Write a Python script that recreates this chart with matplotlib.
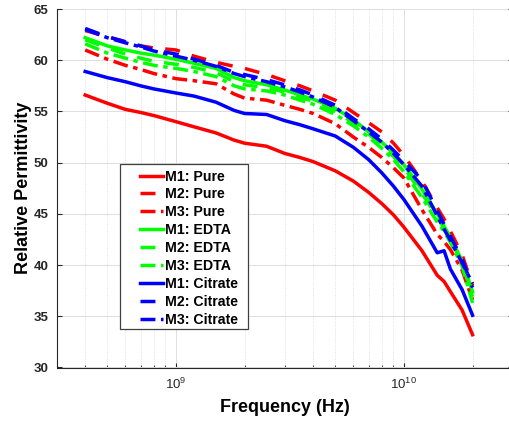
import matplotlib
matplotlib.use("Agg")
import matplotlib.pyplot as plt
from matplotlib.ticker import LogLocator, NullFormatter
from matplotlib.legend_handler import HandlerLine2D
from matplotlib.lines import Line2D
from matplotlib.patches import Rectangle

plt.rcParams['font.family'] = ['Liberation Sans', 'DejaVu Sans']
plt.rcParams['mathtext.fontset'] = 'custom'
plt.rcParams['mathtext.rm'] = 'Liberation Sans'
plt.rcParams['mathtext.it'] = 'Liberation Sans:italic'
plt.rcParams['mathtext.bf'] = 'Liberation Sans:bold'

freq = [4e8, 5e8, 6e8, 7e8, 8e8, 1e9, 1.2e9, 1.5e9, 1.8e9, 2e9, 2.5e9, 3e9, 3.5e9,
        4e9, 5e9, 6e9, 7e9, 8e9, 9e9, 1e10, 1.2e10, 1.4e10, 1.5e10, 1.6e10, 1.8e10, 2e10]

pure_m1 = [56.6, 55.8, 55.2, 54.9, 54.6, 54.0, 53.5, 52.9, 52.2, 51.9, 51.6, 50.9, 50.5,
           50.1, 49.2, 48.2, 47.1, 46.0, 44.9, 43.7, 41.4, 39.0, 38.4, 37.4, 35.6, 33.2]
pure_m2 = [62.9, 62.3, 61.8, 61.4, 61.2, 61.0, 60.4, 59.8, 59.4, 59.2, 58.6, 58.0, 57.5,
           57.0, 56.1, 54.9, 53.9, 53.0, 51.9, 50.7, 48.2, 45.6, 44.5, 43.3, 41.0, 38.0]
pure_m3 = [61.0, 60.1, 59.5, 59.1, 58.7, 58.2, 58.0, 57.7, 56.7, 56.3, 56.1, 55.6, 55.2,
           54.8, 53.8, 52.5, 51.5, 50.5, 49.5, 48.5, 45.4, 43.0, 42.3, 41.5, 39.5, 36.6]
edta_m1 = [62.2, 61.4, 61.0, 60.7, 60.5, 60.1, 59.7, 59.2, 58.3, 58.0, 57.6, 57.1, 56.6,
           56.2, 55.3, 54.2, 53.0, 52.0, 50.9, 49.8, 47.4, 45.0, 43.8, 42.7, 40.4, 37.4]
edta_m2 = [62.0, 61.2, 60.6, 60.2, 59.9, 59.6, 59.3, 58.8, 57.9, 57.6, 57.3, 56.9, 56.4,
           56.0, 55.0, 53.9, 52.8, 51.7, 50.6, 49.5, 47.0, 44.7, 43.6, 42.5, 40.2, 36.9]
edta_m3 = [61.6, 60.7, 60.2, 59.8, 59.5, 59.2, 58.9, 58.4, 57.5, 57.2, 57.0, 56.6, 56.1,
           55.7, 54.7, 53.6, 52.5, 51.4, 50.3, 49.1, 46.6, 44.2, 43.3, 42.2, 39.9, 36.3]
cit_m1 = [58.9, 58.3, 57.9, 57.5, 57.2, 56.8, 56.5, 55.9, 55.1, 54.8, 54.7, 54.1, 53.7,
          53.3, 52.6, 51.5, 50.3, 49.0, 47.7, 46.4, 43.8, 41.2, 41.4, 39.6, 37.6, 35.1]
cit_m2 = [63.1, 62.3, 61.8, 61.4, 61.0, 60.6, 60.1, 59.5, 58.8, 58.6, 58.1, 57.6, 57.1,
          56.6, 55.6, 54.3, 53.3, 52.3, 51.2, 50.2, 48.3, 45.3, 44.0, 42.8, 40.6, 37.8]
cit_m3 = [63.0, 62.2, 61.7, 61.3, 60.9, 60.4, 60.0, 59.4, 58.7, 58.4, 57.9, 57.4, 56.9,
          56.4, 55.4, 54.1, 53.0, 52.0, 50.9, 49.8, 47.7, 44.8, 43.5, 42.4, 40.2, 38.2]

labels = ['M1: Pure', 'M2: Pure', 'M3: Pure', 'M1: EDTA', 'M2: EDTA', 'M3: EDTA',
          'M1: Citrate', 'M2: Citrate', 'M3: Citrate']
series = [pure_m1, pure_m2, pure_m3, edta_m1, edta_m2, edta_m3, cit_m1, cit_m2, cit_m3]
colors = ['#ff0000'] * 3 + ['#00ff00'] * 3 + ['#0000ff'] * 3
styles = ['-', (0, (4.3, 3.6)), (0, (4.3, 1.6, 1.3, 1.6))] * 3

yticks = [30, 35, 40, 45, 50, 55, 60, 65]


class ShiftedLineHandler(HandlerLine2D):
    """Draw the legend line only in the right part of the handle box."""
    frac = 0.62

    def create_artists(self, legend, orig_handle, xdescent, ydescent, width, height,
                       fontsize, trans):
        arts = super().create_artists(legend, orig_handle, xdescent, ydescent, width,
                                      height, fontsize, trans)
        for a in arts:
            if isinstance(a, Line2D):
                xd = list(a.get_xdata())
                yd = list(a.get_ydata())
                if len(xd) >= 2 and len(yd) >= 1:
                    x1 = max(xd)
                    x0 = min(xd)
                    a.set_data([x1 - self.frac * (x1 - x0), x1], [yd[0], yd[0]])
        return arts


fig = plt.figure(figsize=(5.09, 4.25), dpi=100)
ax = fig.add_axes([56.7 / 509, 57.5 / 425, 456 / 509, 358.5 / 425])

lines = []
for ys, c, ls, lab in zip(series, colors, styles, labels):
    ln, = ax.plot(freq, ys, color=c, linestyle=ls, linewidth=2.5, label=lab)
    lines.append(ln)

ax.set_xscale('log')
ax.set_xlim(3e8, 3e10)
ax.set_ylim(30, 65)
ax.set_yticks(yticks)
ax.xaxis.set_major_locator(LogLocator(base=10, numticks=10))
ax.xaxis.set_minor_locator(LogLocator(base=10, subs=[2, 3, 4, 5, 6, 7, 8, 9], numticks=20))
ax.xaxis.set_minor_formatter(NullFormatter())

ax.grid(True, which='major', color='#dedede', linewidth=0.7, linestyle='-')
ax.grid(True, which='minor', axis='x', color='#d8d8d8', linewidth=0.6, linestyle=':')
ax.set_axisbelow(True)

for s in ['left', 'bottom', 'right']:
    ax.spines[s].set_color('#262626')
    ax.spines[s].set_linewidth(0.8)
ax.spines['top'].set_visible(False)

ax.tick_params(axis='both', which='both', direction='in', colors='#262626',
               top=False, right=True)
ax.tick_params(axis='y', labelsize=9.5, pad=6)
ax.tick_params(axis='x', labelsize=9.5, pad=7)
for t in ax.get_yticklabels():
    t.set_fontweight('bold')

ax.set_xlabel('Frequency (Hz)', fontsize=13, fontweight='bold', labelpad=5)
ax.set_ylabel('Relative Permittivity', fontsize=13, fontweight='bold', labelpad=1)

# legend frame (MATLAB-style wide box)
ax.add_patch(Rectangle((0.139, 0.1074), 0.2805, 0.4606, transform=ax.transAxes,
                       facecolor='white', edgecolor='#404040', linewidth=0.9, zorder=4))

leg = ax.legend(handles=lines, loc='upper left', bbox_to_anchor=(0.139, 0.568),
                borderaxespad=0, fontsize=10.2, frameon=False,
                handlelength=2.6, handletextpad=0.2, labelspacing=0.275, borderpad=0.4,
                handler_map={Line2D: ShiftedLineHandler()})
leg.set_zorder(5)
for t in leg.get_texts():
    t.set_fontweight('bold')

fig.savefig('out.png', dpi=100)
